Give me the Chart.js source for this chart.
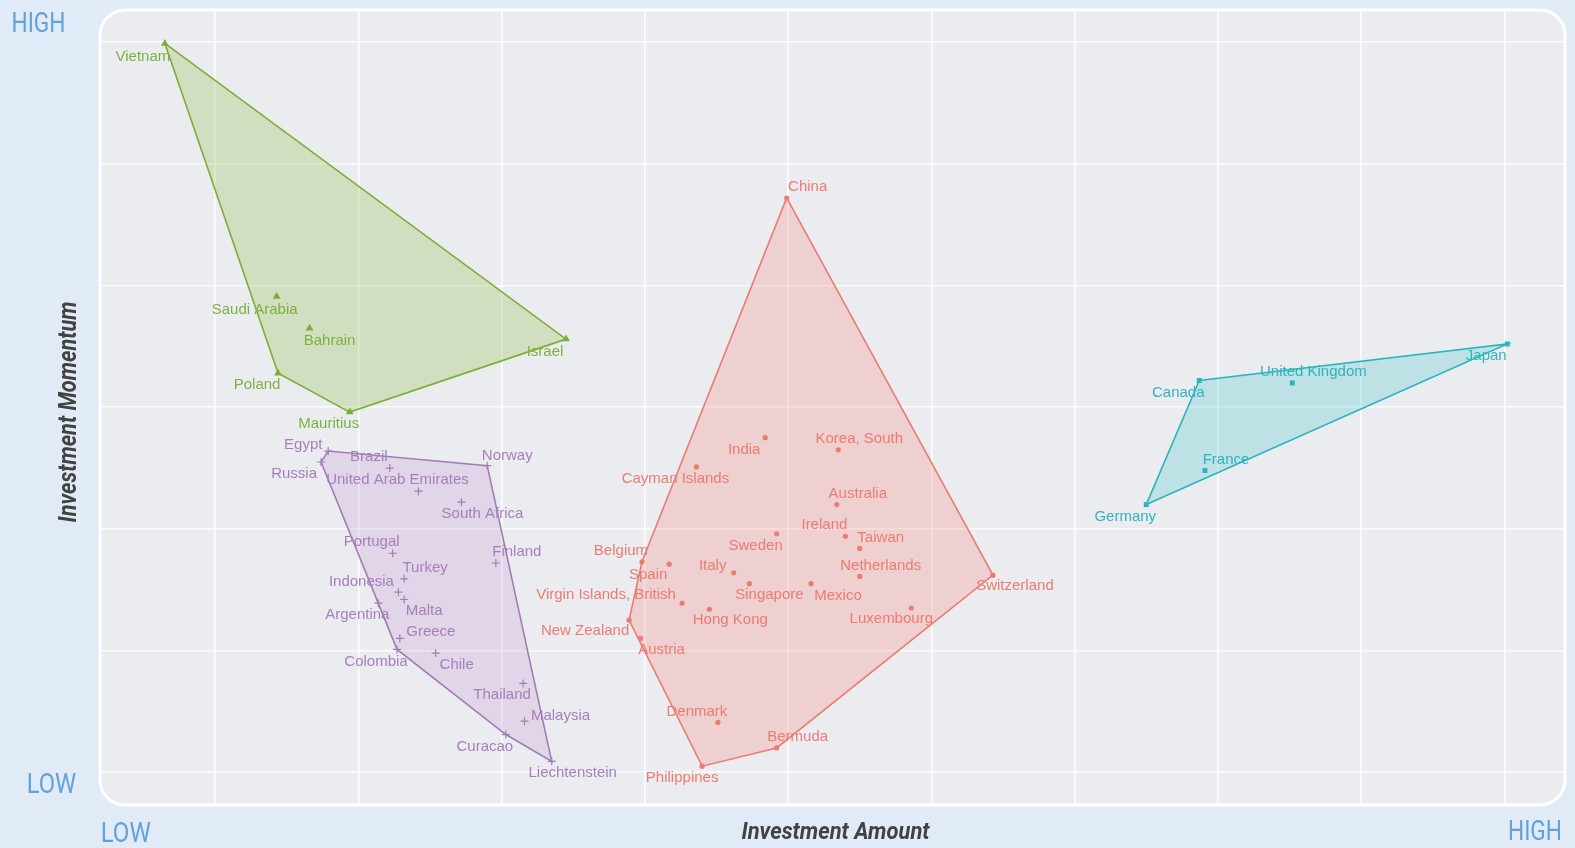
<!DOCTYPE html>
<html><head><meta charset="utf-8">
<script src="https://cdn.jsdelivr.net/npm/chart.js@4.4.0/dist/chart.umd.min.js"></script>
<style>html,body{margin:0;padding:0;background:#e0ebf7;overflow:hidden}</style>
</head><body>
<canvas id="c" width="1575" height="848"></canvas>
<script>
// ---------- DATA ----------
const greenNames = ['Vietnam','Saudi Arabia','Bahrain','Poland','Mauritius','Israel'];
const greenX = [0.65,1.43,1.66,1.44,1.94,3.45];
const greenY = [5.99,3.91,3.65,3.28,2.96,3.56];

const purpleNames = ['Egypt','Russia','Brazil','United Arab Emirates','South Africa','Norway','Portugal','Finland','Turkey','Indonesia','Malta','Argentina','Greece','Colombia','Chile','Thailand','Malaysia','Curacao','Liechtenstein'];
const purpleX = [1.79,1.74,2.22,2.42,2.72,2.90,2.24,2.96,2.32,2.28,2.32,2.14,2.29,2.27,2.54,3.15,3.16,3.03,3.35];
const purpleY = [2.64,2.55,2.50,2.31,2.22,2.52,1.80,1.72,1.59,1.48,1.42,1.39,1.10,1.01,0.98,0.73,0.42,0.31,0.09];

const redNames = ['China','India','Korea, South','Cayman Islands','Australia','Ireland','Sweden','Taiwan','Netherlands','Belgium','Spain','Italy','Singapore','Mexico','Virgin Islands, British','Hong Kong','Luxembourg','New Zealand','Austria','Switzerland','Denmark','Bermuda','Philippines'];
const redX = [4.99,4.84,5.35,4.36,5.34,5.40,4.92,5.50,5.50,3.98,4.17,4.62,4.73,5.16,4.26,4.45,5.86,3.89,3.97,6.43,4.51,4.92,4.40];
const redY = [4.72,2.75,2.65,2.51,2.20,1.94,1.96,1.84,1.61,1.73,1.71,1.64,1.55,1.55,1.39,1.34,1.35,1.25,1.10,1.62,0.41,0.20,0.05];

const tealNames = ['Canada','United Kingdom','Japan','France','Germany'];
const tealX = [7.87,8.52,10.02,7.91,7.50];
const tealY = [3.22,3.20,3.52,2.48,2.20];

const gridX = [1,2,3,4,5,6,7,8,9,10];
const gridY = [0,1,2,3,4,5,6];

// ---------- LABEL PLACEMENT (pixel offsets from marker) ----------
const labelOffset = {
  'Vietnam':[-22,13],'Saudi Arabia':[-22,13],'Bahrain':[20,13],'Poland':[-21,12],'Mauritius':[-21,12],'Israel':[-21,13],
  'Egypt':[-25,-6],'Russia':[-27,12],'Brazil':[-21,-11],'United Arab Emirates':[-21,-11],'South Africa':[21,12],'Norway':[20,-10],
  'Portugal':[-21,-11],'Finland':[21,-11],'Turkey':[21,-11],'Indonesia':[-37,-10],'Malta':[20,11],'Argentina':[-21,12],
  'Greece':[31,-7],'Colombia':[-21,12],'Chile':[21,12],'Thailand':[-21,11],'Malaysia':[36,-5],'Curacao':[-21,12],'Liechtenstein':[21,12],
  'China':[21,-11],'India':[-21,12],'Korea, South':[21,-11],'Cayman Islands':[-21,12],'Australia':[21,-11],'Ireland':[-21,-11],
  'Sweden':[-21,12],'Taiwan':[21,-11],'Netherlands':[21,-11],'Belgium':[-21,-11],'Spain':[-21,11],'Italy':[-21,-7],
  'Singapore':[20,11],'Mexico':[27,12],'Virgin Islands, British':[-76,-8],'Hong Kong':[21,11],'Luxembourg':[-20,11],
  'New Zealand':[-44,11],'Austria':[21,11],'Switzerland':[22,11],'Denmark':[-21,-11],'Bermuda':[21,-11],'Philippines':[-20,12],
  'Canada':[-21,12],'United Kingdom':[21,-11],'Japan':[-21,12],'France':[21,-11],'Germany':[-21,12]
};

// ---------- HELPERS ----------
function pts(xs, ys){ return xs.map((x,i)=>({x:x, y:ys[i]})); }
function hull(xs, ys){
  const p = pts(xs, ys).sort((a,b)=>a.x-b.x || a.y-b.y);
  const cr = (o,a,b)=>(a.x-o.x)*(b.y-o.y)-(a.y-o.y)*(b.x-o.x);
  const lo=[], up=[];
  for (const q of p){ while(lo.length>=2 && cr(lo[lo.length-2],lo[lo.length-1],q)<=0) lo.pop(); lo.push(q); }
  for (let i=p.length-1;i>=0;i--){ const q=p[i]; while(up.length>=2 && cr(up[up.length-2],up[up.length-1],q)<=0) up.pop(); up.push(q); }
  const h = lo.slice(0,-1).concat(up.slice(0,-1));
  h.push(h[0]);
  return h;
}

const groups = [
  {names:greenNames, xs:greenX, ys:greenY, line:'#7bae36', fill:'rgba(130,178,40,0.24)', text:'#7db13f', style:'triangle', r:4.5, bw:0},
  {names:purpleNames, xs:purpleX, ys:purpleY, line:'#a27cb6', fill:'rgba(185,125,205,0.2)', text:'#a67fba', style:'cross', r:4, bw:1.2},
  {names:redNames, xs:redX, ys:redY, line:'#ec7b72', fill:'rgba(246,120,110,0.24)', text:'#ec7b72', style:'circle', r:2.6, bw:0},
  {names:tealNames, xs:tealX, ys:tealY, line:'#27b6bf', fill:'rgba(30,185,195,0.22)', text:'#2fb4bd', style:'rect', r:3.5, bw:0}
];

const datasets = [];
groups.forEach(g=>{
  datasets.push({type:'scatter', data:hull(g.xs,g.ys), showLine:true, fill:'shape',
    borderColor:g.line, backgroundColor:g.fill, borderWidth:1.6, pointRadius:0, order:2, tension:0});
});
groups.forEach((g,gi)=>{
  datasets.push({type:'scatter', data:pts(g.xs,g.ys), names:g.names, labelColor:g.text, isPoints:true,
    pointStyle:g.style, pointRadius:g.r, backgroundColor:g.line, borderColor:g.line, borderWidth:g.bw, order:1});
});

function roundRect(ctx,x,y,w,h,r){
  ctx.beginPath();
  ctx.moveTo(x+r,y); ctx.lineTo(x+w-r,y); ctx.arcTo(x+w,y,x+w,y+r,r);
  ctx.lineTo(x+w,y+h-r); ctx.arcTo(x+w,y+h,x+w-r,y+h,r);
  ctx.lineTo(x+r,y+h); ctx.arcTo(x,y+h,x,y+h-r,r);
  ctx.lineTo(x,y+r); ctx.arcTo(x,y,x+r,y,r); ctx.closePath();
}
function drawFit(ctx, text, x, y, width, font, color, align){
  ctx.save(); ctx.font = font; ctx.fillStyle = color;
  const w = ctx.measureText(text).width;
  ctx.translate(x,y); ctx.scale(width/w,1);
  ctx.textAlign = align; ctx.textBaseline='alphabetic';
  ctx.fillText(text,0,0); ctx.restore();
}

const bgPlugin = {
  id:'bg',
  beforeDraw(chart){
    const ctx = chart.ctx, a = chart.chartArea;
    ctx.save();
    ctx.fillStyle = '#e0ebf7'; ctx.fillRect(0,0,chart.width,chart.height);
    roundRect(ctx, a.left, a.top, a.right-a.left, a.bottom-a.top, 25);
    ctx.fillStyle = '#ebecef'; ctx.fill();
    ctx.lineWidth = 3; ctx.strokeStyle = '#ffffff'; ctx.stroke();
    ctx.restore();
  }
};
const labelPlugin = {
  id:'labels',
  afterDatasetsDraw(chart){
    const ctx = chart.ctx;
    ctx.save();
    ctx.font = '15px "Liberation Sans", Arial, sans-serif';
    ctx.textAlign='center'; ctx.textBaseline='middle';
    chart.data.datasets.forEach((ds,i)=>{
      if(!ds.isPoints) return;
      const meta = chart.getDatasetMeta(i);
      ctx.fillStyle = ds.labelColor;
      meta.data.forEach((el,j)=>{
        const n = ds.names[j]; const o = labelOffset[n] || [0,-12];
        ctx.fillText(n, el.x+o[0], el.y+o[1]);
      });
    });
    ctx.restore();
  },
  afterDraw(chart){
    const ctx = chart.ctx;
    const hl = '#62a2d7';
    const f = '400 28px Roboto, sans-serif';
    drawFit(ctx,'HIGH',11.5,31.7,54,f,hl,'left');
    drawFit(ctx,'LOW',26.7,793.3,49.5,f,hl,'left');
    drawFit(ctx,'LOW',100.7,842.3,50,f,hl,'left');
    drawFit(ctx,'HIGH',1508,840,54,f,hl,'left');
    const tf = 'italic bold 23px Roboto, sans-serif';
    drawFit(ctx,'Investment Amount',835.5,839.3,188,tf,'#424242','center');
    ctx.save(); ctx.translate(75.7,412); ctx.rotate(-Math.PI/2);
    drawFit(ctx,'Investment Momentum',0,0,221,'italic bold 25px Roboto, sans-serif','#424242','center');
    ctx.restore();
  }
};

new Chart(document.getElementById('c'), {
  data:{datasets:datasets},
  options:{
    responsive:false, animation:false, devicePixelRatio:1,
    layout:{padding:{left:100, top:10, right:10, bottom:43}},
    plugins:{legend:{display:false}, tooltip:{enabled:false}},
    scales:{
      x:{type:'linear', min:0.197, max:10.423,
        afterBuildTicks:s=>{ s.ticks = gridX.map(v=>({value:v})); },
        ticks:{display:false}, grid:{color:'rgba(255,255,255,0.85)', lineWidth:1.6, drawTicks:false}, border:{display:false}},
      y:{type:'linear', min:-0.269, max:6.265,
        afterBuildTicks:s=>{ s.ticks = gridY.map(v=>({value:v})); },
        ticks:{display:false}, grid:{color:'rgba(255,255,255,0.85)', lineWidth:1.6, drawTicks:false}, border:{display:false}}
    }
  },
  plugins:[bgPlugin, labelPlugin]
});
</script>
</body></html>
